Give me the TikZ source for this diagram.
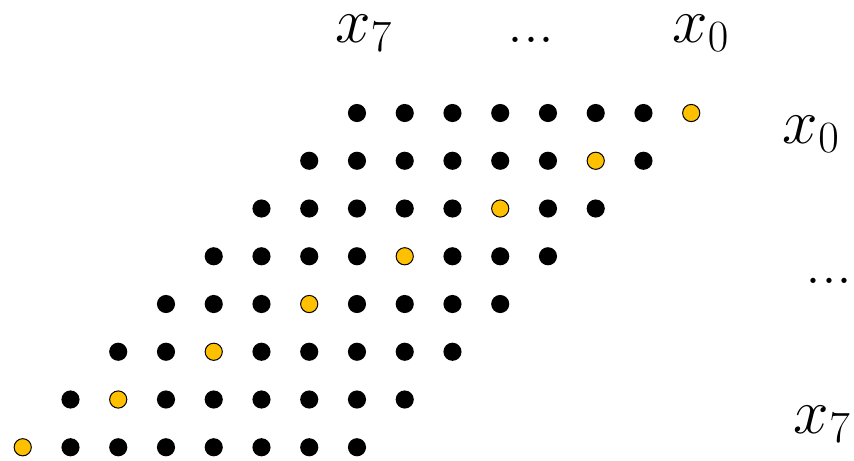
\RequirePackage{fix-cm}
\documentclass[tikz,border=0pt]{standalone}
\definecolor{gold}{HTML}{FFC000}
\tikzset{
  dot/.style={circle, fill=black, inner sep=0pt, minimum size=0.38cm},
  hit/.style={circle, fill=gold, draw=black, line width=0.6pt, inner sep=0pt, minimum size=0.36cm},
  lbl/.style={inner sep=0pt, text height=0.5em, text depth=0.25em, font=\fontsize{38}{38}\selectfont}
}

\begin{document}
\begin{tikzpicture}
  \useasboundingbox (0,0) rectangle (17.885,9.634);

  % Points: row i, column j, highlighted where i+j=7
  \foreach \i in {0,...,7} {
    \foreach \j in {0,...,7} {
      \ifnum\numexpr\i+\j\relax=7 \def\sty{hit}\else\def\sty{dot}\fi
      \node[\sty] (p\i\j) at (7.476+\j-\i, 7.267-\i) {};
    }
  }

  % Column labels
  \node[lbl, anchor=base west] (col7) at (7.016,8.754) {$x_7$};
  \node[lbl, anchor=base] (coldots) at (11.12,8.754) {...};
  \node[lbl, anchor=base west] (col0) at (14.073,8.754) {$x_0$};

  % Row labels
  \node[lbl, anchor=base east] (row0) at (17.59,6.639) {$x_0$};
  \node[lbl, anchor=base] (rowdots) at (17.361,3.707) {...};
  \node[lbl, anchor=base east] (row7) at (17.82,0.565) {$x_7$};
\end{tikzpicture}
\end{document}
